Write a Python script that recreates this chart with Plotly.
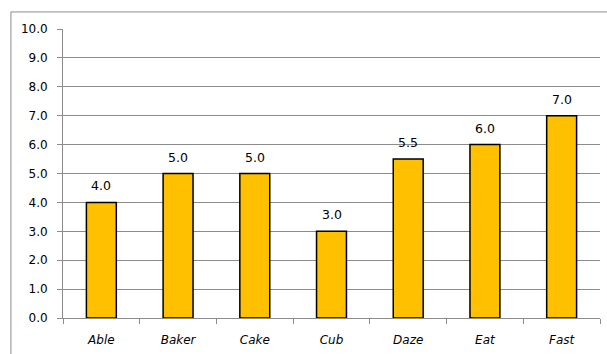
import plotly.graph_objects as go

categories = ["Able", "Baker", "Cake", "Cub", "Daze", "Eat", "Fast"]
values = [4.0, 5.0, 5.0, 3.0, 5.5, 6.0, 7.0]
y_ticks = [i * 1.0 for i in range(11)]

grid = "#8c8c8c"
font_family = "DejaVu Sans, Verdana, sans-serif"

fig = go.Figure()
fig.add_trace(go.Bar(
    x=categories,
    y=values,
    marker=dict(color="#FFC000", line=dict(color="#000000", width=1.5)),
    hoverinfo="skip",
))

# value labels above each bar
for c, v in zip(categories, values):
    fig.add_annotation(
        x=c, y=v, text=f"{v:.1f}", showarrow=False,
        yanchor="bottom", yshift=7,
        font=dict(family=font_family, size=12.5, color="#000000"),
    )

# outer chart frame
fig.add_shape(
    type="rect", xref="paper", yref="paper",
    x0=-0.097, x1=1.02, y0=-0.2, y1=1.059,
    line=dict(color=grid, width=1), fillcolor="rgba(0,0,0,0)", layer="below",
)

fig.update_layout(
    width=607, height=354,
    margin=dict(l=63, r=7, t=29, b=36),
    paper_bgcolor="white", plot_bgcolor="white",
    showlegend=False,
    bargap=0.61,
    font=dict(family=font_family, size=12, color="#000000"),
    xaxis=dict(
        type="category",
        showgrid=False,
        showline=True, linecolor=grid, linewidth=1,
        ticks="outside", tickson="boundaries", ticklen=5, tickcolor=grid,
        tickfont=dict(family=font_family, size=12, style="italic"),
        ticklabelstandoff=11,
    ),
    yaxis=dict(
        range=[0, 10],
        tickvals=y_ticks,
        tickformat=".1f",
        showgrid=True, gridcolor=grid, gridwidth=1,
        zeroline=False,
        showline=True, linecolor=grid, linewidth=1,
        ticks="outside", ticklen=5, tickcolor=grid,
        tickfont=dict(family=font_family, size=12),
        ticklabelstandoff=7,
    ),
)

fig.write_html("out.html")
